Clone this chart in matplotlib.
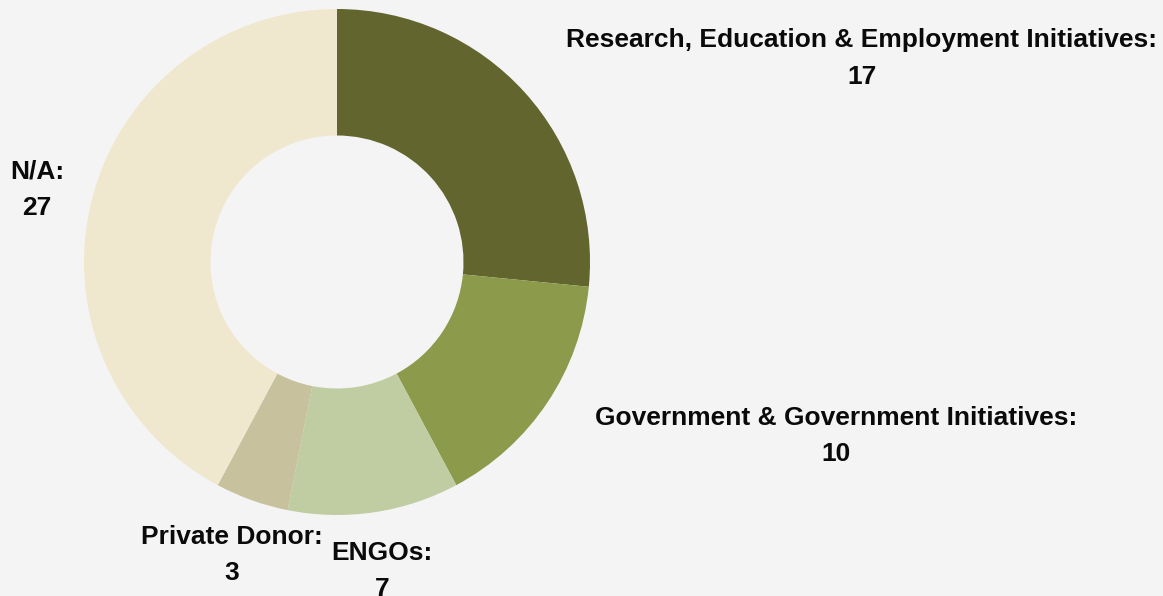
import matplotlib.pyplot as plt

labels = ["Research, Education & Employment Initiatives", "Government & Government Initiatives",
          "ENGOs", "Private Donor", "N/A"]
values = [17, 10, 7, 3, 27]
colors = ["#62652e", "#8b9a4b", "#c0cca1", "#c8c19d", "#efe8cf"]

# label anchor points (pixel coords, origin top-left)
label_pos = [(862, 58.5), (836, 436), (382, 571), (232, 555), (37, 190)]

W, H = 1163, 596
plt.rcParams['font.family'] = ['Liberation Sans', 'DejaVu Sans']

fig = plt.figure(figsize=(W / 100, H / 100), dpi=100)
fig.patch.set_facecolor("#f4f4f4")
ax = fig.add_axes([0, 0, 1, 1])
ax.set_facecolor("#f4f4f4")

cx, cy, r = 337, H - 262, 253
ax.pie(values, colors=colors, startangle=90, counterclock=False,
       center=(cx, cy), radius=r,
       wedgeprops=dict(width=r * 0.5, linewidth=0))

for lab, v, (px, py) in zip(labels, values, label_pos):
    ax.text(px, H - py, f"{lab}:\n{v}", ha="center", va="center",
            fontsize=19, fontweight="bold", color="#0a0a0a",
            linespacing=1.65, multialignment="center")

ax.set_xlim(0, W)
ax.set_ylim(0, H)
ax.set_aspect("equal")
ax.axis("off")

fig.savefig("out.png", dpi=100, facecolor=fig.get_facecolor())
